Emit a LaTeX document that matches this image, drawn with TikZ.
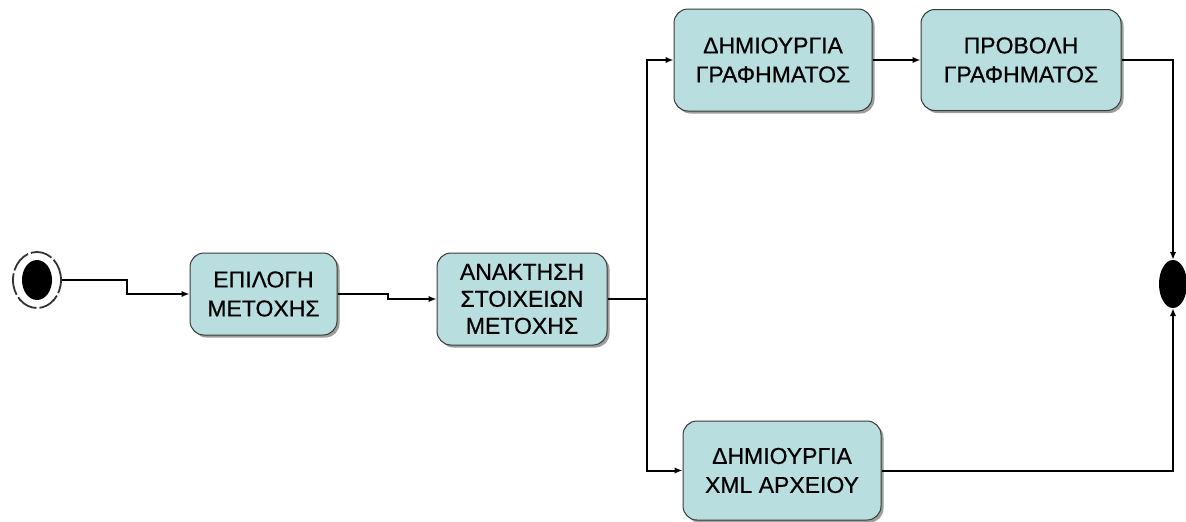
\documentclass[tikz,border=0pt]{standalone}
\usepackage{fontspec}
\setmainfont{Liberation Sans}
\newfontfamily\boxfont[FakeBold=0.6]{Liberation Sans}
\usetikzlibrary{arrows.meta,shadows,calc,shapes.geometric}
\definecolor{actfill}{HTML}{B8DEE0}
\definecolor{actline}{HTML}{3A3A3A}
\tikzset{
  activity/.style={rounded corners=14pt, fill=actfill, draw=actline, line width=1pt,
    align=center, inner sep=2pt,
    font=\boxfont\fontsize{23}{29}\selectfont,
    drop shadow={shadow xshift=2.5pt, shadow yshift=-2.5pt, fill=black!55, opacity=0.7}},
  flow/.style={line width=2pt, -{Latex[length=8pt,width=6.5pt]}},
  plain/.style={line width=2pt}
}
\begin{document}
\begin{tikzpicture}[x=1pt,y=-1pt]
\useasboundingbox (0,0) rectangle (1186,522);

% start state
\node[draw=black!80, dash pattern=on 22pt off 3pt, line width=1.8pt, ellipse, minimum width=48pt, minimum height=56pt, inner sep=0pt] (ring) at (37,280) {};
\node[fill=black, ellipse, minimum width=30pt, minimum height=40pt, inner sep=0pt] (init) at (37,280) {};

% activities
\node[activity, minimum width=147pt, minimum height=82pt] (select) at (263.5,294) {ΕΠΙΛΟΓΗ\\ΜΕΤΟΧΗΣ};
\node[activity, minimum width=170pt, minimum height=92pt, font=\boxfont\fontsize{23}{27}\selectfont] (fetch) at (522,299) {ΑΝΑΚΤΗΣΗ\\ΣΤΟΙΧΕΙΩΝ\\ΜΕΤΟΧΗΣ};
\node[activity, minimum width=198pt, minimum height=102pt] (chart) at (773,60) {ΔΗΜΙΟΥΡΓΙΑ\\ΓΡΑΦΗΜΑΤΟΣ};
\node[activity, minimum width=200pt, minimum height=101pt] (show) at (1021,60) {ΠΡΟΒΟΛΗ\\ΓΡΑΦΗΜΑΤΟΣ};
\node[activity, minimum width=198pt, minimum height=99pt] (xml) at (782,470.5) {ΔΗΜΙΟΥΡΓΙΑ\\XML ΑΡΧΕΙΟΥ};

% join bar
\node[fill=black, ellipse, minimum width=28pt, minimum height=48pt, inner sep=0pt] (join) at (1173,284) {};

\coordinate (fork) at (647,299);

% connectors
\draw[flow] (ring.east) -- ++(65,0) |- (select);
\draw[flow] (select.east) -- ++(50,0) |- (fetch);
\draw[plain] (fetch.east) -- (fork);
\draw[flow] (fork) |- (chart);
\draw[flow] (fork) |- (xml);
\draw[flow] (chart) -- (show);
\draw[flow] (show) -| (join);
\draw[flow] (xml) -| (join);
\end{tikzpicture}
\end{document}
